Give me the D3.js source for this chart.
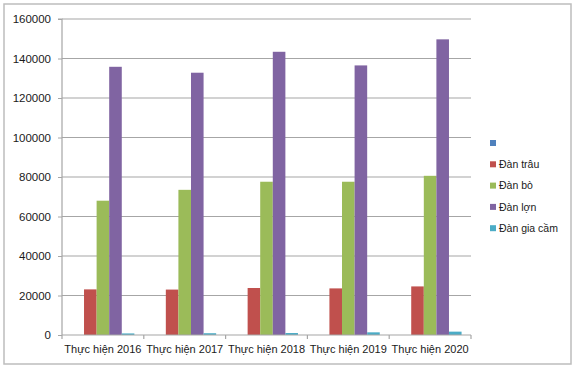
<!DOCTYPE html>
<html><head><meta charset="utf-8">
<script src="https://cdn.jsdelivr.net/npm/d3@7"></script>
<style>html,body{margin:0;padding:0;background:#fff;}svg{display:block;font-family:"Liberation Sans",Arial,sans-serif;}</style>
</head><body>
<svg id="c" width="576" height="373"></svg>
<script>
const categories = ["Thực hiện 2016","Thực hiện 2017","Thực hiện 2018","Thực hiện 2019","Thực hiện 2020"];
const seriesNames = ["", "Đàn trâu", "Đàn bò", "Đàn lợn", "Đàn gia cầm"];
const seriesColors = ["#4F81BD","#C0504D","#9BBB59","#8064A2","#4BACC6"];
const blankSeries = [0,0,0,0,0];
const trau = [23100, 23000, 23800, 23600, 24600];
const bo = [68000, 73500, 77600, 77600, 80600];
const lon = [135800, 132800, 143400, 136500, 149700];
const giaCam = [800, 900, 1000, 1350, 1700];
const yTicks = [0,20000,40000,60000,80000,100000,120000,140000,160000];
const seriesValues = [blankSeries, trau, bo, lon, giaCam];

const svg = d3.select("#c");
// outer frame
svg.append("rect").attr("x",4).attr("y",4).attr("width",567).attr("height",360)
  .attr("fill","#fff").attr("stroke","#bdbdbd").attr("stroke-width",1.5);

const L=62, R=471, T=19, B=335;
const x0 = d3.scaleBand().domain(categories).range([L,R]).paddingInner(0).paddingOuter(0);
const x1 = d3.scaleBand().domain(d3.range(seriesNames.length)).range([0,x0.bandwidth()]).paddingInner(0).paddingOuter(0.75);
const y = d3.scaleLinear().domain([0,160000]).range([B,T]);

// gridlines
svg.append("g").selectAll("line").data(yTicks.filter(d=>d>0)).join("line")
  .attr("x1",L).attr("x2",R).attr("y1",d=>y(d)).attr("y2",d=>y(d))
  .attr("stroke","#a6a6a6").attr("stroke-width",1.2);

// y axis
const yAxis = d3.axisLeft(y).tickValues(yTicks).tickFormat(d3.format("d")).tickSize(4).tickPadding(7);
const gy = svg.append("g").attr("transform",`translate(${L},0)`).call(yAxis);
gy.select(".domain").attr("stroke","#a6a6a6").attr("stroke-width",1.2).attr("d",`M-4,${T}H0V${B}`);
gy.selectAll(".tick line").attr("stroke","#a6a6a6");
gy.selectAll("text").attr("font-size","11.5px").attr("fill","#1a1a1a").attr("font-family","Liberation Sans, Arial, sans-serif");

// bars
const groups = svg.append("g").selectAll("g").data(categories).join("g")
  .attr("transform",d=>`translate(${x0(d)},0)`);
groups.selectAll("rect").data((c,ci)=>seriesValues.map((s,si)=>({si,v:s[ci]}))).join("rect")
  .attr("x",d=>x1(d.si)).attr("width",x1.bandwidth())
  .attr("y",d=>y(d.v)).attr("height",d=>B-y(d.v))
  .attr("fill",d=>seriesColors[d.si]);

// x axis
const xAxis = d3.axisBottom(x0).tickSize(0).tickPadding(10);
const gx = svg.append("g").attr("transform",`translate(0,${B})`).call(xAxis);
gx.select(".domain").attr("stroke","#a6a6a6").attr("stroke-width",1.2).attr("d",`M${L},0H${R}`);
gx.selectAll("text").attr("font-size","11px").attr("fill","#1a1a1a").attr("font-family","Liberation Sans, Arial, sans-serif");
// boundary tick marks
svg.append("g").selectAll("line").data(categories.map(c=>x0(c)).concat([R])).join("line")
  .attr("x1",d=>d).attr("x2",d=>d).attr("y1",B).attr("y2",B+4)
  .attr("stroke","#a6a6a6").attr("stroke-width",1.2);

// legend
const lg = svg.append("g").selectAll("g").data(seriesNames).join("g")
  .attr("transform",(d,i)=>`translate(490,${143+i*21.3})`);
lg.append("rect").attr("x",0).attr("y",-3).attr("width",6).attr("height",6).attr("fill",(d,i)=>seriesColors[i]);
lg.append("text").attr("x",9).attr("y",0).attr("dy","0.35em").attr("font-size","10.5px").attr("fill","#1a1a1a").text(d=>d);
</script>
</body></html>
